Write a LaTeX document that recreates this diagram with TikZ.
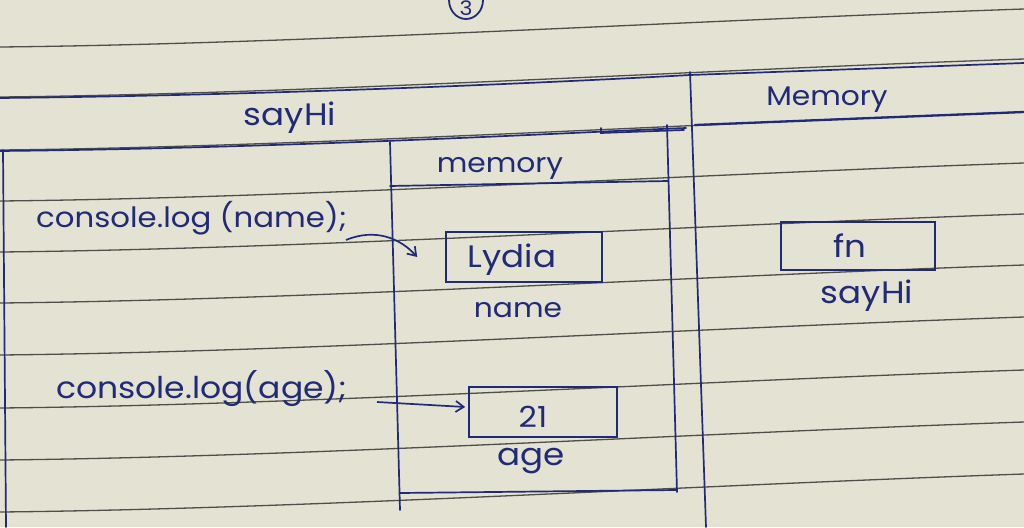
\documentclass[tikz,border=0pt]{standalone}
\usepackage{fontspec}
\setmainfont{Poppins}[FakeStretch=1.1]
\usetikzlibrary{arrows.meta}
\definecolor{paper}{RGB}{228,226,211}
\definecolor{rule}{RGB}{78,78,74}
\definecolor{ink}{RGB}{32,42,118}
\tikzset{
  ruled/.style={draw=rule, line width=1.3pt},
  inkline/.style={draw=ink, line width=1.7pt, line cap=round},
  hand/.style={text=ink, inner sep=0pt, anchor=base, font=\fontsize{#1}{#1}\selectfont},
  hand/.default=28,
  valbox/.style={draw=ink, line width=1.7pt, minimum width=156pt, minimum height=50pt, inner sep=0pt},
  ptr/.style={draw=ink, line width=1.7pt, -{Straight Barb[length=8pt,width=11pt,line width=1.7pt]}}
}
\begin{document}
\begin{tikzpicture}[x=1pt,y=-1pt]
\useasboundingbox (0,0) rectangle (1024,527);
\fill[paper] (0,0) rectangle (1024,527);
% ruled lines of the paper
\foreach \yl in {47,97,150,201,252,303,355,408,460,512}{
  \draw[ruled] (0,\yl) .. controls (300,\yl-3) and (700,\yl-27) .. (1024,\yl-38);
}
% circled page number
\draw[ink, line width=1.8pt] (466,0) ellipse (17 and 19);
\node[hand=20] (pg) at (466,16) {3};
% ink frame lines
\draw[inkline] (0,98) .. controls (300,95) and (600,80) .. (690,75) -- (1024,63);
\draw[inkline] (0,151) .. controls (300,148) and (600,131) .. (686,128);
\draw[inkline, line width=2.3pt] (695,125) -- (1024,112);
\draw[inkline] (690,72) -- (706,527);
\draw[inkline] (3,150) -- (6,527);
% inner memory column
\draw[inkline] (390,142) -- (400,510);
\draw[inkline] (667,125) -- (677,492);
\draw[inkline] (601,128) -- (601,133) -- (684,130);
\draw[inkline] (390,186) -- (668,181);
\draw[inkline] (400,493) -- (677,490);
% headers
\node[hand=31] (hsay) at (290,125) {sayHi};
\node[hand=27] (hmem) at (827,105) {Memory};
\node[hand=27] (hmem2) at (500,172) {memory};
% code lines
\node[hand=28, anchor=base west] (c1) at (36,227) {console.log (name);};
\node[hand=30, anchor=base west] (c2) at (56,398) {console.log(age);};
% values in inner memory
\node[valbox] (lydia) at (524,257) {};
\node[hand=31] (tl) at (512,267) {Lydia};
\node[hand=27] (lname) at (518,317) {name};
\node[valbox, minimum width=148pt] (v21) at (543,412) {};
\node[hand=29] (t21) at (533,427) {21};
\node[hand=31] (lage) at (531,465) {age};
% value in global memory
\node[valbox, minimum width=154pt, minimum height=48pt] (fn) at (858,246) {};
\node[hand=31] (tfn) at (850,257) {fn};
\node[hand=31] (lsay) at (867,303) {sayHi};
% pointers
\coordinate (s1) at (346,240);
\coordinate (s2) at (377,402);
\draw[ptr] (s1) .. controls (375,228) and (400,238) .. ([xshift=-28pt]lydia.west);
\draw[ptr] (s2) -- ([xshift=-3pt,yshift=5pt]v21.west);
\end{tikzpicture}
\end{document}
